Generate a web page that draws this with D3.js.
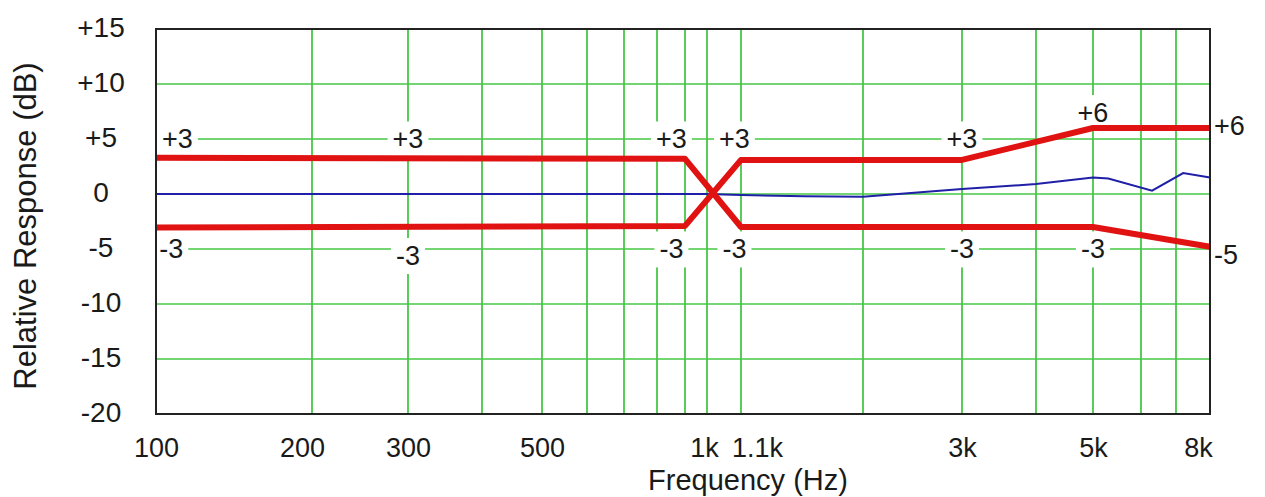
<!DOCTYPE html>
<html>
<head>
<meta charset="utf-8">
<script src="https://cdn.jsdelivr.net/npm/d3@7"></script>
<style>
  body { margin: 0; background: #fff; }
  text { font-family: "Liberation Sans", Arial, sans-serif; fill: #1a1a1a; }
</style>
</head>
<body>
<script>
// axis ticks and grid
var xTicks = [100, 200, 300, 500, 1000, 1100, 3000, 5000, 8000];
var xTickLabels = ["100", "200", "300", "500", "1k", "1.1k", "3k", "5k", "8k"];
var xGrid = [200, 300, 400, 500, 600, 700, 800, 900, 1000, 1100, 2000, 3000, 4000, 5000, 6000, 7000];
var yTicks = [15, 10, 5, 0, -5, -10, -15, -20];
var yTickLabels = ["+15", "+10", "+5", "0", "-5", "-10", "-15", "-20"];
var yGrid = [10, 5, 0, -5, -10, -15];

// red tolerance lines (they cross over at 1k)
var limitAFreq = [100, 900, 1100, 3000, 5000, 8000];
var limitADb   = [3.3, 3.2, -3.0, -3.0, -3.0, -4.8];
var limitBFreq = [100, 900, 1100, 3000, 5000, 8000];
var limitBDb   = [-3.05, -2.9, 3.1, 3.1, 6.0, 6.0];

// measured response (blue)
var respFreq = [100, 300, 600, 1000, 1100, 1500, 2000, 3000, 4000, 5000, 5300, 6300, 7200, 8000];
var respDb   = [0, 0, 0, 0, -0.1, -0.2, -0.25, 0.45, 0.9, 1.5, 1.4, 0.3, 1.9, 1.5];

// tolerance labels
var annoFreq = [110, 300, 850, 1080, 3000, 5000, 8000, 107, 300, 850, 1080, 3000, 5000, 8000];
var annoDb   = [5, 5, 5, 5, 5, 7.4, 6.2, -5, -5.6, -5, -5, -5, -5, -5.5];
var annoText = ["+3", "+3", "+3", "+3", "+3", "+6", "+6", "-3", "-3", "-3", "-3", "-3", "-3", "-5"];

var margin = {top: 29, left: 156},
    width = 1054,
    height = 385;

var svg = d3.select("body").append("svg")
    .attr("width", 1265)
    .attr("height", 497);

var g = svg.append("g")
    .attr("transform", "translate(" + margin.left + "," + margin.top + ")");

// the printed frequency axis is not an exact log axis, so the log scale
// is calibrated segment by segment on the grid frequencies
var xDomain = [100].concat(xGrid, [8000]);
var xRange = [0, 156, 252, 326, 386, 431, 468, 501, 529, 551, 585, 707, 806, 880, 937, 985, 1020, 1054];
var x = d3.scaleLog().domain(xDomain).range(xRange);

var y = d3.scaleLinear().domain([-20, 15]).range([height, 0]);

// grid
g.selectAll(".vgrid").data(xGrid).enter().append("line")
    .attr("class", "vgrid")
    .attr("x1", d => x(d)).attr("x2", d => x(d))
    .attr("y1", 0).attr("y2", height)
    .attr("stroke", "#30bf30")
    .attr("stroke-width", 1.6);

g.selectAll(".hgrid").data(yGrid).enter().append("line")
    .attr("class", "hgrid")
    .attr("x1", 0).attr("x2", width)
    .attr("y1", d => y(d)).attr("y2", d => y(d))
    .attr("stroke", "#45c845")
    .attr("stroke-width", 1.6);

// labels with white boxes that cut the grid
var anno = annoText.map((t, i) => ({f: annoFreq[i], db: annoDb[i], t: t}));
var ag = g.selectAll(".anno").data(anno).enter().append("g").attr("class", "anno");
ag.append("text")
    .attr("x", d => d.f >= 8000 ? x(8000) + 4 : x(d.f))
    .attr("y", d => y(d.db))
    .attr("dy", "0.35em")
    .attr("text-anchor", d => d.f >= 8000 ? "start" : "middle")
    .style("font-size", "27px")
    .text(d => d.t);
ag.each(function() {
  var grp = d3.select(this);
  var bb = grp.select("text").node().getBBox();
  grp.insert("rect", "text")
      .attr("x", bb.x - 5).attr("y", bb.y - 3)
      .attr("width", bb.width + 10).attr("height", bb.height + 6)
      .attr("fill", "#fff");
});

var line = d3.line()
    .x(d => x(d[0]))
    .y(d => y(d[1]));

g.append("path")
    .datum(respFreq.map((f, i) => [f, respDb[i]]))
    .attr("d", line)
    .attr("fill", "none")
    .attr("stroke", "#1f1fa8")
    .attr("stroke-width", 2);

[[limitAFreq, limitADb], [limitBFreq, limitBDb]].forEach(function(s) {
  g.append("path")
      .datum(s[0].map((f, i) => [f, s[1][i]]))
      .attr("d", line)
      .attr("fill", "none")
      .attr("stroke", "#e01212")
      .attr("stroke-width", 6)
      .attr("stroke-linejoin", "round");
});

// frame
g.append("rect")
    .attr("width", width).attr("height", height)
    .attr("fill", "none")
    .attr("stroke", "#222")
    .attr("stroke-width", 2);

// axes
var xAxis = g.append("g")
    .attr("transform", "translate(0," + height + ")")
    .call(d3.axisBottom(x).tickValues(xTicks).tickFormat((d, i) => xTickLabels[i]).tickSize(0));
xAxis.select(".domain").remove();
xAxis.selectAll("text")
    .attr("y", 43).attr("dy", 0)
    .attr("fill", "#1a1a1a")
    .style("font-size", "27px");
// 1k and 1.1k sit close together: push them apart, keep 8k inside the frame edge
xAxis.selectAll(".tick text")
    .attr("dx", d => d === 1100 ? 16 : d === 1000 ? -3 : d === 200 ? -10 : d === 8000 ? -12 : 0);

var yAxis = g.append("g")
    .call(d3.axisLeft(y).tickValues(yTicks).tickFormat((d, i) => yTickLabels[i]).tickSize(0));
yAxis.select(".domain").remove();
yAxis.selectAll("text")
    .attr("x", -55).attr("y", -2).attr("dy", "0.35em")
    .attr("text-anchor", "middle")
    .attr("fill", "#1a1a1a")
    .style("font-size", "28px");

// titles
svg.append("text")
    .attr("x", 748).attr("y", 490)
    .attr("text-anchor", "middle")
    .style("font-size", "29px")
    .text("Frequency (Hz)");

svg.append("text")
    .attr("transform", "translate(25,226) rotate(-90)")
    .attr("dy", "0.35em")
    .attr("text-anchor", "middle")
    .style("font-size", "31px")
    .text("Relative Response  (dB)");
</script>
</body>
</html>
